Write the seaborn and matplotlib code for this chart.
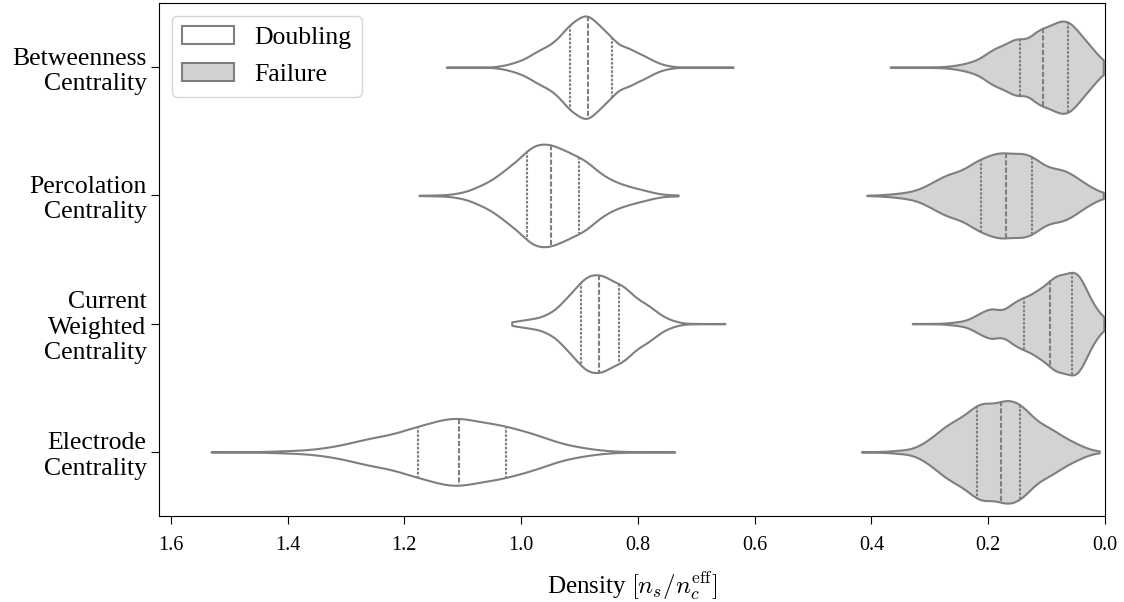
import numpy as np
import pandas as pd
import seaborn as sns
import matplotlib.pyplot as plt

# each group: sample values (density units) and how many samples sit at each value
betw_dbl_vals = [0.637, 0.751, 0.774, 0.795, 0.819, 0.845, 0.866, 0.886, 0.901, 0.916, 0.93, 0.945, 0.965, 0.985, 1.008, 1.031, 1.128]
betw_dbl_counts = [1, 5, 20, 45, 75, 100, 128, 155, 95, 110, 60, 65, 57, 35, 18, 5, 1]
betw_fail_vals = [0.003, 0.014, 0.031, 0.049, 0.063, 0.076, 0.089, 0.106, 0.123, 0.146, 0.163, 0.18, 0.194, 0.208, 0.23, 0.255, 0.288, 0.368]
betw_fail_counts = [10, 30, 80, 100, 110, 100, 105, 115, 105, 100, 70, 55, 40, 30, 20, 8, 2, 1]

perc_dbl_vals = [0.731, 0.745, 0.774, 0.79, 0.808, 0.83, 0.854, 0.878, 0.9, 0.924, 0.948, 0.97, 0.99, 1.013, 1.036, 1.06, 1.08, 1.105, 1.14, 1.175]
perc_dbl_counts = [1, 2, 6, 12, 20, 35, 55, 85, 115, 140, 155, 140, 125, 95, 65, 35, 18, 8, 2, 1]
perc_fail_vals = [0.003, 0.02, 0.037, 0.054, 0.07, 0.083, 0.104, 0.125, 0.146, 0.17, 0.191, 0.213, 0.233, 0.254, 0.27, 0.288, 0.31, 0.34, 0.37, 0.408]
perc_fail_counts = [5, 15, 32, 50, 55, 65, 85, 125, 140, 140, 130, 115, 85, 60, 52, 45, 28, 13, 5, 1]

curr_dbl_vals = [0.651, 0.70, 0.734, 0.75, 0.768, 0.782, 0.797, 0.815, 0.832, 0.85, 0.866, 0.882, 0.898, 0.916, 0.934, 0.955, 0.979, 1.0, 1.016]
curr_dbl_counts = [1, 1, 4, 14, 28, 42, 60, 90, 113, 120, 125, 125, 113, 85, 52, 32, 18, 10, 4]
curr_fail_vals = [0.002, 0.011, 0.026, 0.043, 0.057, 0.077, 0.094, 0.115, 0.138, 0.16, 0.191, 0.21, 0.226, 0.254, 0.29, 0.33]
curr_fail_counts = [5, 15, 50, 105, 115, 120, 100, 95, 75, 60, 50, 25, 14, 6, 1, 1]

elec_dbl_vals = [0.737, 0.80, 0.848, 0.875, 0.899, 0.92, 0.946, 0.97, 0.997, 1.026, 1.05, 1.08, 1.106, 1.122, 1.148, 1.177, 1.20, 1.23, 1.259, 1.29, 1.325, 1.36, 1.403, 1.45, 1.531]
elec_dbl_counts = [1, 1, 2, 5, 10, 14, 24, 41, 58, 64, 71, 88, 61, 72, 80, 64, 50, 45, 40, 28, 16, 7, 5, 1, 1]
elec_fail_vals = [0.01, 0.03, 0.05, 0.07, 0.09, 0.11, 0.13, 0.145, 0.16, 0.178, 0.20, 0.22, 0.24, 0.26, 0.28, 0.30, 0.32, 0.35, 0.38, 0.417]
elec_fail_counts = [1, 8, 25, 40, 65, 80, 95, 98, 122, 146, 145, 138, 100, 88, 65, 35, 15, 7, 2, 1]

metrics = ["Betweenness\nCentrality", "Percolation\nCentrality",
           "Current\nWeighted\nCentrality", "Electrode\nCentrality"]
groups = [
    (metrics[0], "Doubling", betw_dbl_vals, betw_dbl_counts),
    (metrics[0], "Failure", betw_fail_vals, betw_fail_counts),
    (metrics[1], "Doubling", perc_dbl_vals, perc_dbl_counts),
    (metrics[1], "Failure", perc_fail_vals, perc_fail_counts),
    (metrics[2], "Doubling", curr_dbl_vals, curr_dbl_counts),
    (metrics[2], "Failure", curr_fail_vals, curr_fail_counts),
    (metrics[3], "Doubling", elec_dbl_vals, elec_dbl_counts),
    (metrics[3], "Failure", elec_fail_vals, elec_fail_counts),
]

rows = []
for metric, kind, vals, counts in groups:
    for v in np.repeat(vals, counts):
        rows.append({"metric": metric, "event": kind, "density": v})
df = pd.DataFrame(rows)

plt.rcParams['font.family'] = 'serif'
plt.rcParams['font.serif'] = ['Liberation Serif', 'DejaVu Serif']
plt.rcParams['mathtext.fontset'] = 'cm'

fig = plt.figure(figsize=(11.24, 6.02), dpi=100)
ax = fig.add_axes([0.1415, 0.1429, 0.8416, 0.852])

# one call per row so the two violins of a row are scaled against each other
for i, m in enumerate(metrics):
    sns.violinplot(data=df[df["metric"] == m], x="density", y="metric",
                   hue="event", order=metrics, hue_order=["Doubling", "Failure"],
                   orient="h", dodge=False,
                   palette={"Doubling": "white", "Failure": "lightgray"},
                   inner="quart", cut=0, linecolor="gray", linewidth=1.5,
                   width=0.8, common_norm=True, legend=(i == 0), ax=ax)

ax.set_xlim(1.62, 0.0)
ax.set_xticks([1.6, 1.4, 1.2, 1.0, 0.8, 0.6, 0.4, 0.2, 0.0])
ax.set_ylabel("")
ax.set_xlabel(r"Density $[n_s/n_c^{\mathrm{eff}}]$", fontsize=18, labelpad=10)
ax.tick_params(axis="x", labelsize=14.5, length=5.5, pad=9)
ax.tick_params(axis="y", labelsize=18.5, length=5.5, pad=3.5)
sns.move_legend(ax, "upper left", title=None, fontsize=18.5, labelspacing=0.55)

plt.savefig("out.png", dpi=100)
